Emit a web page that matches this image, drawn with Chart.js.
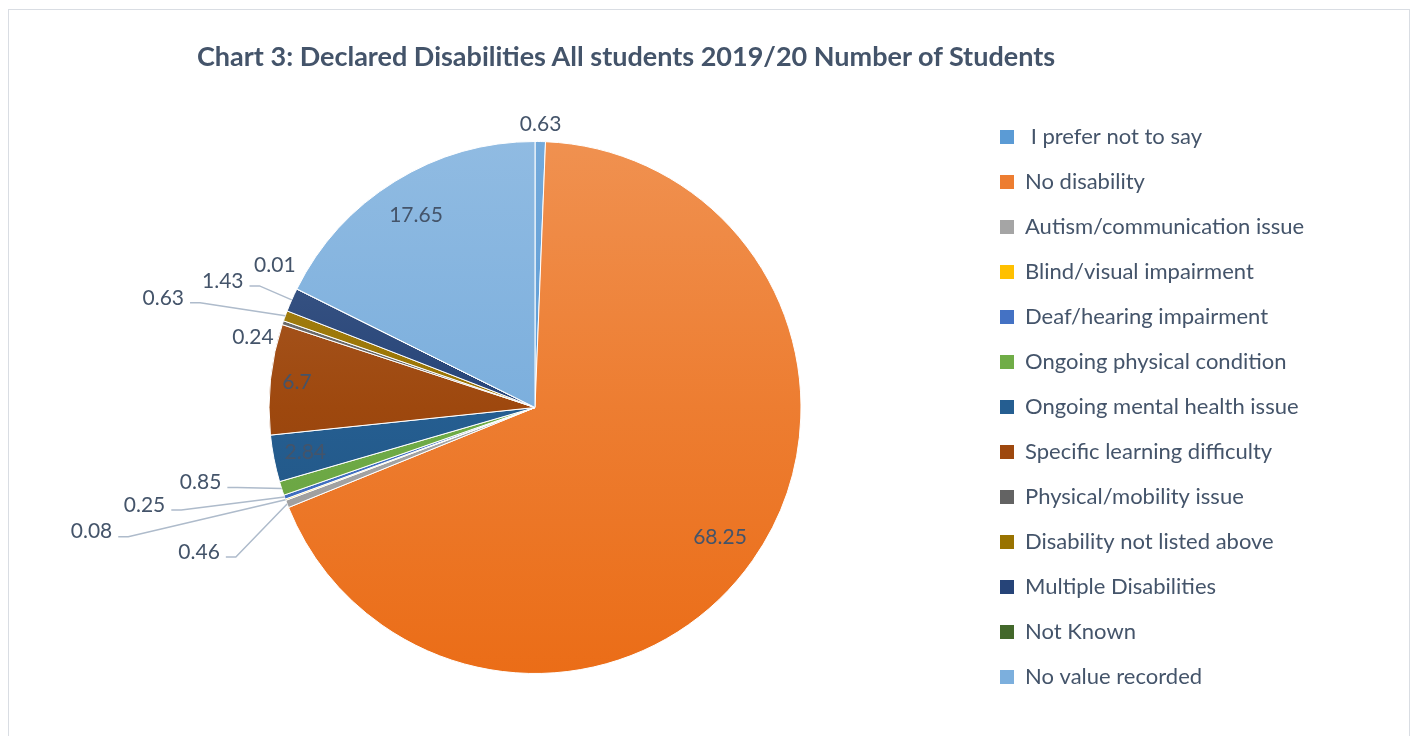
<!DOCTYPE html>
<html lang="en">
<head>
    <meta charset="UTF-8">
    <title>Chart 3: Declared Disabilities All students 2019/20</title>
    <script src="https://cdn.jsdelivr.net/npm/chart.js"></script>
    <style>
        html, body { margin: 0; padding: 0; background: #fff; width: 1410px; height: 736px; overflow: hidden; }
        #frame { position: absolute; left: 8px; top: 9px; width: 1400px; height: 760px; border: 1px solid #D9DDE3; }
        #wrap { position: absolute; left: 0; top: 0; width: 1410px; height: 736px; }
        #title { position: absolute; left: 197px; top: 39px; line-height: 32px; font: bold 27px Lato, sans-serif; color: #44546A; white-space: nowrap; }
    </style>
</head>
<body>
    <div id="frame"></div>
    <div id="wrap"><canvas id="pieChart"></canvas></div>
    <div id="title">Chart 3: Declared Disabilities All students 2019/20 Number of Students</div>

    <script>
        // data
        const categories = [
            ' I prefer not to say',
            'No disability',
            'Autism/communication issue',
            'Blind/visual impairment',
            'Deaf/hearing impairment',
            'Ongoing physical condition',
            'Ongoing mental health issue',
            'Specific learning difficulty',
            'Physical/mobility issue',
            'Disability not listed above',
            'Multiple Disabilities',
            'Not Known',
            'No value recorded'
        ];
        const percentages = [0.63, 68.25, 0.46, 0.08, 0.25, 0.85, 2.84, 6.7, 0.24, 0.63, 1.43, 0.01, 17.65];
        const sliceColors = ['#5B9BD5', '#ED7D31', '#A5A5A5', '#FFC000', '#4472C4', '#70AD47',
                             '#255E91', '#9E480E', '#636363', '#997300', '#264478', '#43682B', '#7CAFDD'];

        // where each value label goes (style only)
        const labelPlacement = [
            { radial: 17 },
            { inside: 0.85 },
            { dx: -88, dy: 48, leader: true },
            { dx: -194, dy: 32, leader: true },
            { dx: -140, dy: 8, leader: true },
            { dx: -81, dy: -6, leader: true },
            { inside: 0.88 },
            { inside: 0.9 },
            { dx: -30, dy: 15 },
            { dx: -122, dy: -18, leader: true },
            { dx: -69, dy: -19, leader: true },
            { dx: -22, dy: -24 },
            { inside: 0.85 }
        ];

        const textColor = '#44546A';
        const leaderColor = '#AEBBCB';
        const pieRadius = 266;
        const fontFamily = 'Lato, sans-serif';

        function hexToRgb(hex) {
            return [1, 3, 5].map(k => parseInt(hex.slice(k, k + 2), 16));
        }

        function hexToHsl(hex) {
            const [r, g, b] = hexToRgb(hex).map(v => v / 255);
            const max = Math.max(r, g, b), min = Math.min(r, g, b);
            let h = 0, s = 0;
            const l = (max + min) / 2;
            if (max !== min) {
                const d = max - min;
                s = l > 0.5 ? d / (2 - max - min) : d / (max + min);
                if (max === r) h = (g - b) / d + (g < b ? 6 : 0);
                else if (max === g) h = (b - r) / d + 2;
                else h = (r - g) / d + 4;
                h *= 60;
            }
            return [h, s * 100, l * 100];
        }

        function tint(hex, t) {
            const c = hexToRgb(hex).map(v => Math.round(v + (255 - v) * t));
            return `rgb(${c[0]}, ${c[1]}, ${c[2]})`;
        }

        function darken(hex, dl) {
            const [h, s, l] = hexToHsl(hex);
            return `hsl(${h.toFixed(1)}, ${s.toFixed(1)}%, ${Math.max(0, l - dl).toFixed(1)}%)`;
        }

        function sliceFill(context) {
            const chart = context.chart;
            const base = sliceColors[context.dataIndex];
            const area = chart.chartArea;
            if (!area) return base;
            const cy = (area.top + area.bottom) / 2;
            const grad = chart.ctx.createLinearGradient(0, cy - pieRadius, 0, cy + pieRadius);
            grad.addColorStop(0, tint(base, 0.15));
            grad.addColorStop(0.5, base);
            grad.addColorStop(1, darken(base, 5.5));
            return grad;
        }

        const sliceLabels = {
            id: 'sliceLabels',
            afterDatasetsDraw(chart) {
                const ctx = chart.ctx;
                const meta = chart.getDatasetMeta(0);
                ctx.save();
                ctx.font = '21px ' + fontFamily;
                ctx.textAlign = 'center';
                ctx.textBaseline = 'middle';
                ctx.strokeStyle = leaderColor;
                ctx.lineWidth = 1.5;
                meta.data.forEach((arc, i) => {
                    const p = arc.getProps(['x', 'y', 'startAngle', 'endAngle', 'outerRadius'], true);
                    const mid = (p.startAngle + p.endAngle) / 2;
                    const cos = Math.cos(mid), sin = Math.sin(mid);
                    const ex = p.x + cos * p.outerRadius;
                    const ey = p.y + sin * p.outerRadius;
                    const place = labelPlacement[i];
                    const text = String(percentages[i]);
                    let lx, ly;
                    if (place.inside) {
                        lx = p.x + cos * p.outerRadius * place.inside;
                        ly = p.y + sin * p.outerRadius * place.inside;
                    } else if (place.radial) {
                        lx = p.x + cos * (p.outerRadius + place.radial);
                        ly = p.y + sin * (p.outerRadius + place.radial);
                    } else {
                        lx = ex + place.dx;
                        ly = ey + place.dy;
                    }
                    if (place.leader) {
                        const w = ctx.measureText(text).width;
                        const sx = lx + w / 2 + 6, sy = ly + 5;
                        ctx.beginPath();
                        ctx.moveTo(sx, sy);
                        ctx.lineTo(sx + 10, sy);
                        ctx.lineTo(ex, ey);
                        ctx.stroke();
                    }
                    ctx.fillStyle = textColor;
                    ctx.fillText(text, lx, ly);
                });
                ctx.restore();
            }
        };

        // legend box should start at x=1000, so size the right padding off the widest label
        const legendFont = { family: fontFamily, size: 22 };
        const measure = document.createElement('canvas').getContext('2d');
        measure.font = legendFont.size + 'px ' + fontFamily;
        const widest = Math.max(...categories.map(c => measure.measureText(c).width));
        const legendPad = 23, boxSize = 14;
        const legendWidth = legendPad + boxSize + legendFont.size / 2 + widest + 10;
        const padRight = 1410 - (1000 - legendPad) - legendWidth;

        new Chart(document.getElementById('pieChart'), {
            type: 'pie',
            data: {
                labels: categories,
                datasets: [{
                    data: percentages,
                    backgroundColor: sliceFill,
                    borderColor: '#ffffff',
                    borderWidth: 1,
                    radius: pieRadius
                }]
            },
            options: {
                responsive: true,
                maintainAspectRatio: false,
                animation: false,
                layout: { padding: { top: 103, bottom: 24, left: 93, right: padRight } },
                plugins: {
                    title: { display: false },
                    tooltip: { enabled: false },
                    legend: {
                        position: 'right',
                        align: 'start',
                        labels: {
                            boxWidth: boxSize,
                            boxHeight: boxSize,
                            padding: legendPad,
                            color: textColor,
                            font: legendFont,
                            generateLabels: () => categories.map((c, i) => ({
                                text: c,
                                fillStyle: sliceColors[i],
                                strokeStyle: sliceColors[i],
                                lineWidth: 0,
                                fontColor: textColor,
                                hidden: false,
                                index: i
                            }))
                        }
                    }
                }
            },
            plugins: [sliceLabels]
        });
    </script>
</body>
</html>
